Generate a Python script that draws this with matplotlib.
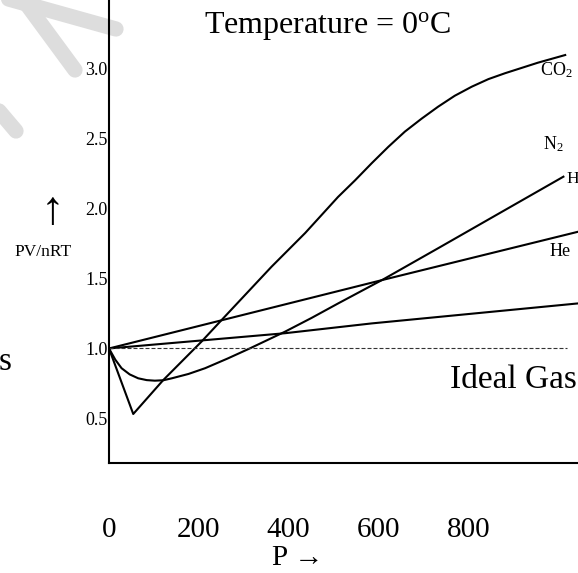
import matplotlib.pyplot as plt
from matplotlib.lines import Line2D

plt.rcParams['font.family'] = ['Liberation Serif', 'DejaVu Serif']
plt.rcParams['mathtext.fontset'] = 'custom'
plt.rcParams['mathtext.rm'] = 'Liberation Serif'
plt.rcParams['mathtext.it'] = 'Liberation Serif:italic'

# values: pressure P vs compressibility PV/nRT
co2_p = [0, 54, 121, 206, 251, 362, 437, 510, 548, 585, 622, 659, 696, 733,
         770, 808, 845, 882, 920, 955, 1016]
co2_z = [1.0, 0.532, 0.775, 1.049, 1.204, 1.584, 1.825, 2.082, 2.201, 2.323,
         2.440, 2.549, 2.641, 2.727, 2.805, 2.870, 2.924, 2.966, 3.005,
         3.041, 3.096]

h2_p = [0, 14, 28, 46, 65, 84, 102, 121, 140, 177, 214, 264, 314, 392, 451,
        511, 611, 733, 882, 1012]
h2_z = [1.0, 0.92, 0.859, 0.815, 0.787, 0.774, 0.770, 0.773, 0.787, 0.818,
        0.859, 0.928, 1.001, 1.12, 1.218, 1.323, 1.494, 1.716, 1.989, 2.227]

he_p = [0, 615, 1045]
he_z = [1.0, 1.494, 1.834]

low_p = [0, 392, 585, 1045]
low_z = [1.0, 1.109, 1.179, 1.322]

ideal_p = [0, 1020]
ideal_z = [1.0, 1.0]

x_ticks = [0, 200, 400, 600, 800]
y_ticks = [0.5, 1.0, 1.5, 2.0, 2.5, 3.0]

W, H = 578, 573
fig = plt.figure(figsize=(W / 100, H / 100), dpi=100)
ax = fig.add_axes([109 / W, 110 / H, 469 / W, 463 / H])
ax.patch.set_visible(False)

# faint watermark strokes behind the chart
def px(x, y):
    return x / W, 1 - y / H

for (x0, y0), (x1, y1) in [((5, -2), (116, 29)), ((22, -2), (75, 70)),
                           ((-12, 98), (16, 131)), ((136, -6), (152, -6))]:
    a, b = px(x0, y0)
    c, d = px(x1, y1)
    fig.add_artist(Line2D([a, c], [b, d], transform=fig.transFigure,
                          color='#dddddd', lw=11, solid_capstyle='round', zorder=-5))

for p, z in [(co2_p, co2_z), (h2_p, h2_z), (he_p, he_z), (low_p, low_z)]:
    ax.plot(p, z, color='black', lw=1.5, solid_joinstyle='round')
ax.plot(ideal_p, ideal_z, color='#333333', lw=0.8, dashes=(3.6, 1.8))

ax.set_xlim(0, 1044.5)
ax.set_ylim(0.182, 3.489)

for s in ['top', 'right']:
    ax.spines[s].set_visible(False)
for s in ['left', 'bottom']:
    ax.spines[s].set_linewidth(1.5)

ax.set_xticks(x_ticks)
ax.set_xticklabels([str(t) for t in x_ticks], fontsize=21)
ax.set_yticks(y_ticks)
ax.set_yticklabels([f'{t:.1f}' for t in y_ticks], fontsize=13)
ax.tick_params(axis='x', length=0, pad=39)
ax.tick_params(axis='y', length=0, pad=1)

ax.text(486, 3.30, 'Temperature = 0$^\\mathrm{o}$C', fontsize=23, ha='center', va='center')
ax.text(900, 0.775, 'Ideal Gas', fontsize=24, ha='center', va='center')
ax.text(996, 2.99, 'CO$_2$', fontsize=13, ha='center', va='center')
ax.text(989, 2.46, 'N$_2$', fontsize=13, ha='center', va='center')
ax.text(1018, 2.21, 'H', fontsize=12.5, ha='left', va='center')
ax.text(1004, 1.69, 'He', fontsize=13, ha='center', va='center')

fig.text(298 / W, 1 - 558 / H, 'P \u2192', fontsize=21, ha='center', va='center')
fig.text(52 / W, 1 - 213 / H, '\u2191', fontsize=34, ha='center', va='center')
fig.text(43 / W, 1 - 252 / H, 'PV/nRT', fontsize=12.5, ha='center', va='center')
fig.text(-1 / W, 1 - 370 / H, 's', fontsize=24, ha='left', va='baseline')

fig.savefig('out.png', dpi=100)
